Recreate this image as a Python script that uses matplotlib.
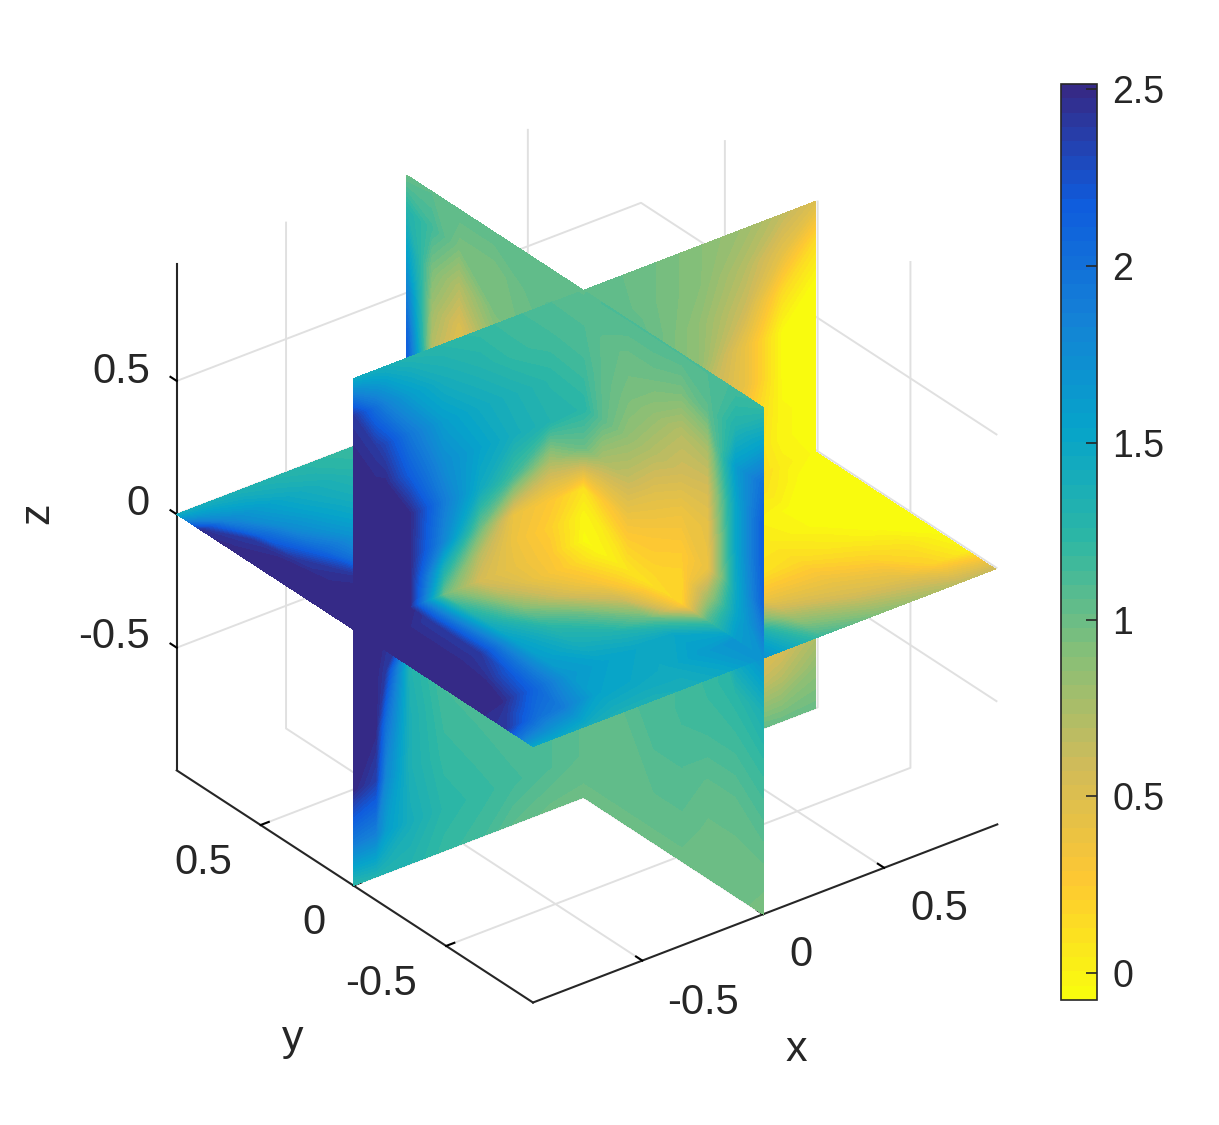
import numpy as np
import matplotlib
matplotlib.use("Agg")
import matplotlib.pyplot as plt
from matplotlib.colors import LinearSegmentedColormap, Normalize
from matplotlib.cm import ScalarMappable

# node positions of the three slices
x_nodes = [-.952, -.86, -.82, -.72, -.58, -.43, -.29, -.14, 0, .24, .48, .67, .82, .96]
y_nodes = [-.968, -.82, -.67, -.53, -.38, -.24, -.1, 0, .24, .48, .67, .82, .952]
z_nodes = [.94, .8, .65, .5, .35, .2, .1, 0, -.2, -.4, -.6, -.8, -.96]

# slice y = 0, rows follow z_nodes, columns x_nodes
slice_y = [
    [1.45, 1.4, 1.38, 1.3, 1.25, 1.2, 1.15, 1.1, 1.05, 1.0, .9, .8, .65, .5],
    [2.4, 2.0, 1.85, 1.6, 1.4, 1.3, 1.2, 1.15, 1.1, 1.0, .9, .7, .45, .15],
    [2.5, 2.4, 2.3, 1.95, 1.6, 1.45, 1.35, 1.25, 1.15, 1.05, .85, .6, .15, -.05],
    [2.5, 2.5, 2.5, 2.15, 1.75, 1.55, 1.4, 1.3, 1.25, 1.05, .85, .4, -.05, -.05],
    [2.5, 2.5, 2.5, 2.5, 1.9, 1.45, 1.15, .75, 1.0, .95, .7, .4, -.05, -.05],
    [2.5, 2.5, 2.5, 2.5, 1.8, 1.0, .4, .28, .1, .8, .6, .25, -.03, -.05],
    [2.5, 2.5, 2.5, 2.5, 1.35, .68, .38, .22, -.02, .7, .55, .2, -.03, -.05],
    [2.5, 2.5, 2.5, 2.5, 1.0, .55, .42, .28, -.05, .6, .5, .2, .03, -.05],
    [2.5, 2.5, 2.4, 1.3, 1.1, 1.05, 1.0, .95, .9, .7, .5, .25, .1, .05],
    [2.5, 2.5, 2.0, 1.35, 1.15, 1.1, 1.05, 1.0, .95, .8, .6, .35, .2, .1],
    [2.5, 2.35, 1.8, 1.35, 1.2, 1.15, 1.1, 1.1, 1.05, .9, .7, .3, .4, .6],
    [1.9, 1.85, 1.6, 1.4, 1.25, 1.2, 1.15, 1.1, 1.05, .95, .85, .6, .7, .85],
    [1.25, 1.3, 1.3, 1.3, 1.2, 1.15, 1.05, 1.0, 1.0, 1.0, 1.0, 1.05, 1.0, 1.0],
]

# slice x = 0, rows follow z_nodes, columns y_nodes
slice_x = [
    [1.2, 1.15, 1.1, 1.1, 1.1, 1.1, 1.1, 1.05, 1.05, 1.05, 1.05, 1.05, 1.0],
    [1.55, 1.3, 1.05, .95, 1.0, 1.0, 1.05, 1.1, 1.05, .95, .95, 1.15, 1.3],
    [2.0, 1.6, .75, .7, .85, .95, 1.05, 1.15, 1.0, .95, .7, .95, 1.55],
    [2.15, 1.5, .55, .58, .7, .85, 1.05, 1.25, .9, .8, .5, .8, 1.85],
    [2.15, 1.5, .42, .38, .48, .65, .75, 1.0, .85, .75, .42, .7, 2.1],
    [2.1, 1.45, .4, .25, .3, .38, .25, .1, .7, .6, .45, .9, 2.2],
    [1.9, 1.5, .75, .18, .22, .22, .05, -.02, .65, .6, .5, .95, 2.2],
    [1.7, 1.6, 1.1, .18, .12, .08, -.02, -.05, .6, .6, .6, 1.0, 2.2],
    [1.35, 1.25, 1.2, 1.15, 1.1, 1.1, 1.05, .9, .9, .9, .9, 1.0, 1.0],
    [1.2, 1.15, 1.15, 1.15, 1.1, 1.1, 1.05, .95, 1.0, 1.0, 1.0, 1.0, 1.0],
    [1.1, 1.05, 1.05, 1.1, 1.1, 1.05, 1.05, 1.05, 1.0, 1.0, 1.0, 1.0, 1.0],
    [1.0, 1.0, 1.0, 1.05, 1.05, 1.05, 1.05, 1.05, 1.0, 1.0, 1.0, 1.0, 1.0],
    [.95, 1.0, 1.0, 1.0, 1.0, 1.0, 1.0, 1.0, 1.0, 1.0, 1.0, 1.0, 1.0],
]

# slice z = 0, rows follow y_nodes, columns x_nodes
slice_z = [
    [1.5, 1.5, 1.48, 1.4, 1.35, 1.35, 1.4, 1.5, 1.7, 1.15, .9, .75, .65, .6],
    [2.4, 2.1, 2.0, 1.9, 1.55, 1.5, 1.45, 1.6, 1.7, .8, .55, .45, .2, .02],
    [2.5, 2.5, 2.4, 2.1, 1.65, 1.55, 1.5, 1.5, 1.15, .4, .35, .2, .1, -.05],
    [2.5, 2.5, 2.5, 2.2, 1.6, 1.4, 1.3, 1.0, .25, .1, .15, .05, -.05, -.05],
    [2.5, 2.5, 2.5, 2.4, 1.55, 1.25, 1.0, .6, .12, .05, .05, -.05, -.05, -.05],
    [2.5, 2.5, 2.5, 2.4, 1.4, .95, .6, .32, .08, .03, .02, -.05, -.05, -.05],
    [2.5, 2.5, 2.5, 2.4, 1.2, .68, .42, .22, -.02, -.05, .05, .1, -.05, -.05],
    [2.5, 2.5, 2.5, 2.5, 1.0, .55, .42, .28, -.05, -.05, .1, .25, .03, -.05],
    [2.5, 2.5, 2.5, 2.45, 1.7, 1.4, 1.2, 1.0, .6, -.05, -.05, -.05, -.05, -.05],
    [2.5, 2.5, 2.4, 2.05, 1.7, 1.5, 1.3, 1.1, .6, -.05, -.05, -.05, -.05, -.05],
    [2.5, 2.4, 2.1, 1.75, 1.55, 1.4, 1.3, 1.2, .6, -.05, -.05, -.05, -.05, -.05],
    [2.45, 1.85, 1.75, 1.6, 1.45, 1.35, 1.25, 1.2, 1.0, -.05, -.05, -.05, -.05, -.05],
    [1.4, 1.4, 1.38, 1.35, 1.3, 1.25, 1.2, 1.15, 1.0, -.05, -.05, -.05, -.05, -.05],
]

axis_ticks = [-.5, 0, .5]
axis_ticklabels = ["-0.5", "0", "0.5"]
cbar_ticks = [0, .5, 1, 1.5, 2, 2.5]
cbar_ticklabels = ["0", "0.5", "1", "1.5", "2", "2.5"]
vmin, vmax = -.076, 2.515

W, H = 1219, 1125
TEXT = "#262626"
plt.rcParams["font.family"] = ["Liberation Sans", "DejaVu Sans"]
plt.rcParams["font.size"] = 27

parula_r = LinearSegmentedColormap.from_list(
    "parula_r",
    ["#f9fb0e", "#fec832", "#d1bb59", "#87bf77", "#2eb7a4",
     "#06a4ca", "#1481d6", "#0f5cdd", "#352a87"],
    N=64,
)
levels = np.linspace(vmin, vmax, 65)

fig = plt.figure(figsize=(W / 100, H / 100), dpi=100)
ax = fig.add_axes([73.5 / W, 67.5 / H, 1000 / W, 1000 / H], projection="3d",
                  computed_zorder=False)
ax.set_proj_type("ortho")
ax.view_init(elev=30, azim=-127.5)
ax.set_box_aspect((1, 1, 1), zoom=.984)

sx, sy, sz = np.array(slice_x), np.array(slice_y), np.array(slice_z)
xn, yn, zn = np.array(x_nodes), np.array(y_nodes), np.array(z_nodes)
order = 1

# index ranges on each side of the 0 node
x_lo, x_hi = slice(0, 9), slice(8, 14)
y_lo, y_hi = slice(0, 8), slice(7, 13)
z_up, z_dn = slice(0, 8), slice(7, 13)


def piece(zdir, i, j):
    # i picks the rows of the table, j the columns
    global order
    if zdir == "x":
        Y, Z = np.meshgrid(yn[j], zn[i])
        cs = ax.contourf(sx[i][:, j], Y, Z, levels=levels, cmap=parula_r,
                         zdir="x", offset=0)
    elif zdir == "y":
        X, Z = np.meshgrid(xn[j], zn[i])
        cs = ax.contourf(X, sy[i][:, j], Z, levels=levels, cmap=parula_r,
                         zdir="y", offset=0)
    else:
        X, Y = np.meshgrid(xn[j], yn[i])
        cs = ax.contourf(X, Y, sz[i][:, j], levels=levels, cmap=parula_r,
                         zdir="z", offset=0)
    cs.set_zorder(order)
    order += 1


# back to front, the camera sits at x < 0, y < 0, z > 0
piece("z", y_hi, x_hi)
piece("y", z_dn, x_hi)
piece("y", z_up, x_hi)
piece("z", y_lo, x_hi)
piece("x", z_dn, y_hi)
piece("x", z_up, y_hi)
piece("x", z_dn, y_lo)
piece("x", z_up, y_lo)
piece("z", y_hi, x_lo)
piece("y", z_dn, x_lo)
piece("y", z_up, x_lo)
piece("z", y_lo, x_lo)

ax.set_xlim(-.952, .968, view_margin=0)
ax.set_ylim(-.968, .952, view_margin=0)
ax.set_zlim(-.96, .94, view_margin=0)
ax.set_xticks(axis_ticks)
ax.set_yticks(axis_ticks)
ax.set_zticks(axis_ticks)
ax.set_xticklabels([])
ax.set_yticklabels([])
ax.set_zticklabels([])
ax.zaxis._get_tickdir = lambda position: 1

for axis in (ax.xaxis, ax.yaxis, ax.zaxis):
    axis.set_pane_color((1, 1, 1, 0))
    axis.pane.set_edgecolor((1, 1, 1, 0))
    axis.line.set_color(TEXT)
    axis.line.set_linewidth(1.5)
    axis._axinfo["grid"]["color"] = "#e0e0e0"
    axis._axinfo["grid"]["linewidth"] = 1.4
    axis._axinfo["tick"]["inward_factor"] = 0
    axis._axinfo["tick"]["outward_factor"] = .22
    axis._axinfo["tick"]["linewidth"] = {True: 1.5, False: .5}
    axis._axinfo["tick"]["color"] = TEXT

# MATLAB places the labels off the tick direction, so they go in by hand
label_kw = dict(va="center", color=TEXT, fontsize=30)
for s, px, py in zip(axis_ticklabels, (150, 150, 150), (637, 504, 372)):
    fig.text(px / W, 1 - py / H, s, ha="right", **label_kw)
for s, px, py in zip(axis_ticklabels, (417, 325, 232), (984, 923, 863)):
    fig.text(px / W, 1 - py / H, s, ha="right", **label_kw)
for s, px, py in zip(axis_ticklabels, (667, 789, 910), (1003, 955, 909)):
    fig.text(px / W, 1 - py / H, s, ha="left", **label_kw)

fig.text(796 / W, 1 - 1050 / H, "x", ha="center", va="center", color=TEXT, fontsize=31)
fig.text(293 / W, 1 - 1039 / H, "y", ha="center", va="center", color=TEXT, fontsize=31)
fig.text(37 / W, 1 - 513 / H, "z", ha="center", va="center", color=TEXT, fontsize=31,
         rotation=90)

cax = fig.add_axes([1061 / W, 1 - 1000 / H, 36 / W, 916 / H])
cb = fig.colorbar(ScalarMappable(Normalize(vmin, vmax), parula_r), cax=cax,
                  ticks=cbar_ticks)
cb.ax.set_yticklabels(cbar_ticklabels)
cb.ax.tick_params(direction="in", length=8, width=1.2, color=TEXT, labelcolor=TEXT,
                  labelsize=27, pad=11)
cb.outline.set_edgecolor(TEXT)
cb.outline.set_linewidth(1.2)

fig.savefig("out.png", dpi=100)
